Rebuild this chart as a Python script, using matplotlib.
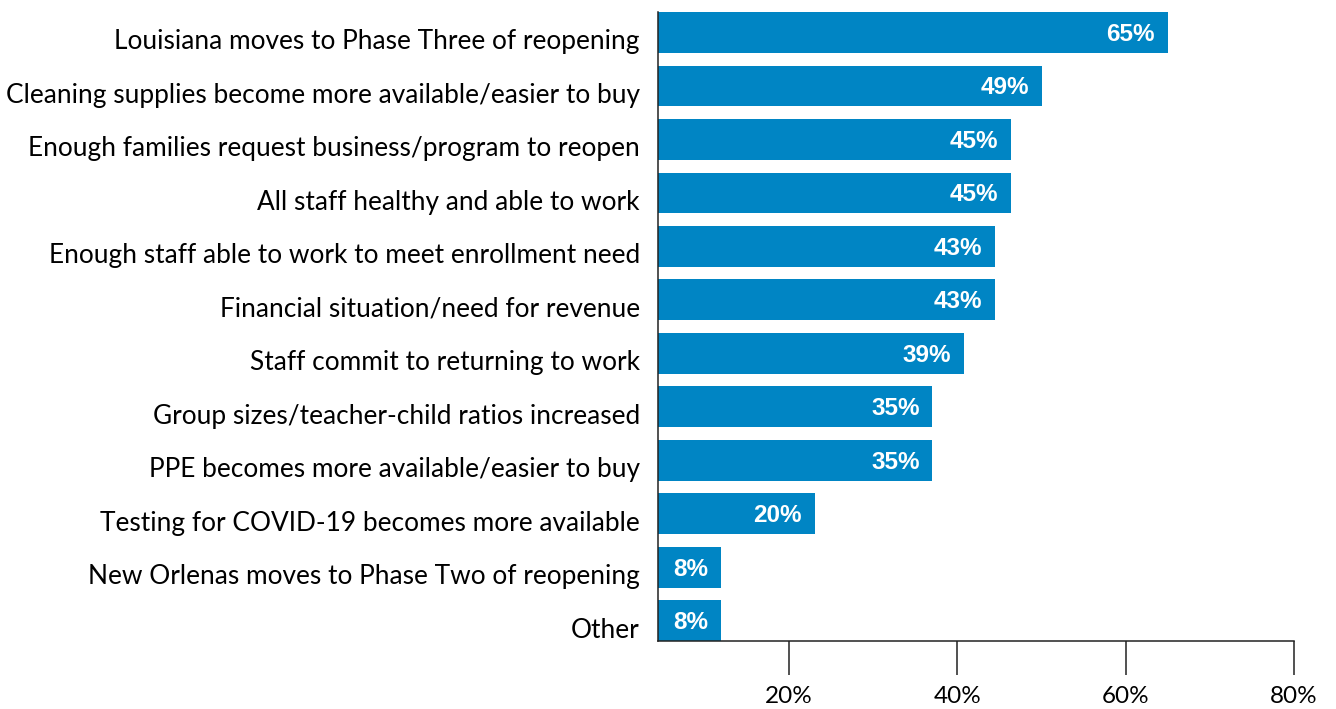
import matplotlib.pyplot as plt
from matplotlib.transforms import ScaledTranslation

categories = [
    "Louisiana moves to Phase Three of reopening",
    "Cleaning supplies become more available/easier to buy",
    "Enough families request business/program to reopen",
    "All staff healthy and able to work",
    "Enough staff able to work to meet enrollment need",
    "Financial situation/need for revenue",
    "Staff commit to returning to work",
    "Group sizes/teacher-child ratios increased",
    "PPE becomes more available/easier to buy",
    "Testing for COVID-19 becomes more available",
    "New Orlenas moves to Phase Two of reopening",
    "Other",
]
values = [65, 49, 45, 45, 43, 43, 39, 35, 35, 20, 8, 8]
tick_values = [20, 40, 60, 80]

BLUE = "#0085c4"
plt.rcParams['font.family'] = ['Lato', 'DejaVu Sans']

fig = plt.figure(figsize=(13.36, 7.09), dpi=100)
ax = fig.add_axes([0.4925, 0.0959, 0.4761, 0.8871])

h = 0.76
y = list(range(len(categories)))
ax.barh(y, values, height=h, color=BLUE)
down = ScaledTranslation(0, -2 / 100, fig.dpi_scale_trans)
for yi, v in zip(y, values):
    ax.text(v - 1.65, yi, f"{v}%", ha='right', va='center', color='white',
            fontsize=17.5, fontweight='bold', family='Liberation Sans',
            transform=ax.transData + down)

ax.set_ylim(len(categories) - 1 + h / 2, -h / 2)
ax.set_xlim(0, 81.1)
ax.set_yticks(y)
ax.set_yticklabels(categories, fontsize=18.9)
ax.tick_params(axis='y', length=0, pad=13)
label_down = ScaledTranslation(0, -7 / 100, fig.dpi_scale_trans)
for lab in ax.get_yticklabels():
    lab.set_transform(lab.get_transform() + label_down)
ax.tick_params(axis='x', bottom=False, labelbottom=False)
for s in ['top', 'right']:
    ax.spines[s].set_visible(False)
for s in ['left', 'bottom']:
    ax.spines[s].set_color('#222222')
    ax.spines[s].set_linewidth(1.1)

# the printed tick scale does not line up with the bar scale in the original
a, b = 4.43, 75.57 / 81.1
sec = ax.secondary_xaxis('bottom', functions=(lambda x: a + x * b, lambda t: (t - a) / b))
sec.set_xticks(tick_values)
sec.set_xticklabels([f"{t}%" for t in tick_values], fontsize=17.5)
sec.tick_params(length=24.5, width=1.1, color='#222222', pad=8)
sec.spines['bottom'].set_visible(False)

fig.savefig("out.png", dpi=100)
